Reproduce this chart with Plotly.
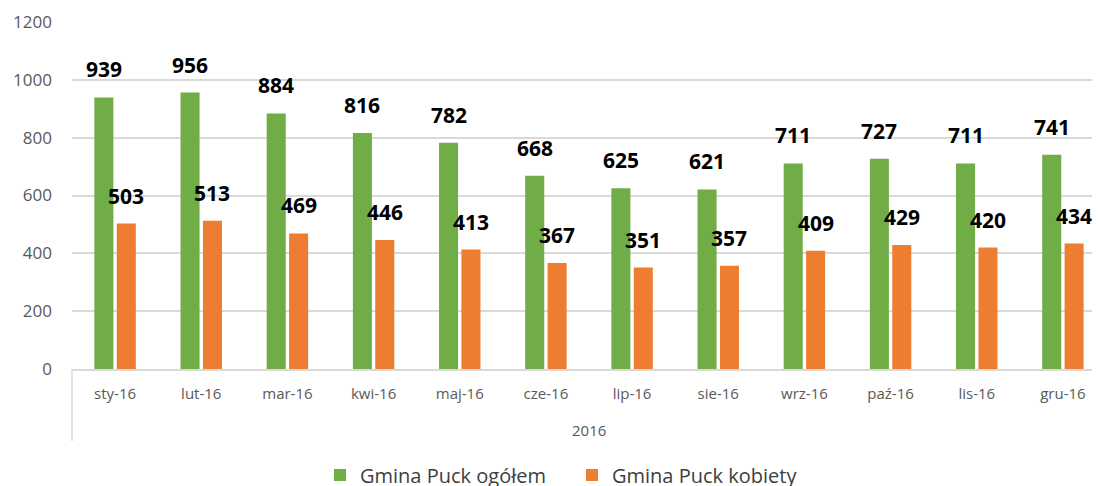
import plotly.graph_objects as go

months = ["sty-16", "lut-16", "mar-16", "kwi-16", "maj-16", "cze-16",
          "lip-16", "sie-16", "wrz-16", "paź-16", "lis-16", "gru-16"]
year_label = "2016"
ogolem = [939, 956, 884, 816, 782, 668, 625, 621, 711, 727, 711, 741]
kobiety = [503, 513, 469, 446, 413, 367, 351, 357, 409, 429, 420, 434]
y_ticks = [0, 200, 400, 600, 800, 1000, 1200]

W, H = 1100, 486
ml, mr, mt, mb = 64, 2, 14, 125
ph = H - mt - mb
pw = W - ml - mr

BARGAP, GROUPGAP = 0.48, 0.15
cat_px = pw / len(months)
grp_px = cat_px * (1 - BARGAP)
bar_off = grp_px / 4  # center of each bar relative to category center

lbl = dict(family="Open Sans, sans-serif", size=21, color="#000000", weight="bold")

fig = go.Figure()
fig.add_trace(go.Bar(
    x=months, y=ogolem, name="Gmina Puck ogółem",
    marker=dict(color="#70AD47", line=dict(width=0)),
))
fig.add_trace(go.Bar(
    x=months, y=kobiety, name="Gmina Puck kobiety",
    marker=dict(color="#ED7D31", line=dict(width=0)),
))

for series, shift in ((ogolem, -bar_off), (kobiety, bar_off)):
    for m, v in zip(months, series):
        fig.add_annotation(x=m, y=v, xref="x", yref="y", text=str(v),
                           showarrow=False, xshift=shift, yshift=12,
                           yanchor="bottom", font=lbl)

fig.update_layout(
    width=W, height=H,
    margin=dict(l=ml, r=mr, t=mt, b=mb, autoexpand=False),
    paper_bgcolor="white", plot_bgcolor="white",
    barmode="group", bargap=BARGAP, bargroupgap=GROUPGAP,
    font=dict(family="Open Sans, sans-serif", color="#595959"),
    legend=dict(orientation="h", x=(312 - ml) / pw, xanchor="left",
                y=-106 / ph, yanchor="middle",
                font=dict(size=20, color="#404040"),
                itemwidth=30, traceorder="normal",
                entrywidth=207, entrywidthmode="pixels"),
    xaxis=dict(type="category", showgrid=False, showline=True, linecolor="#d9d9d9",
               linewidth=1.5, ticks="", tickfont=dict(size=15, color="#595959"),
               ticklabelstandoff=10, automargin=False),
    yaxis=dict(range=[0, 1200], tickvals=y_ticks, showgrid=True, gridcolor="#d9d9d9",
               gridwidth=1.5, zeroline=False, showline=False,
               tickfont=dict(size=17, color="#595959"), ticklabelstandoff=19,
               automargin=False),
)

# multi-level axis: year label and left divider
fig.add_annotation(x=0.5, xref="paper", y=-61 / ph, yref="paper",
                   text=year_label, showarrow=False,
                   font=dict(size=15, color="#595959"), yanchor="middle")
fig.add_shape(type="line", xref="paper", yref="paper", x0=0, x1=0,
              y0=0, y1=-72 / ph, line=dict(color="#d9d9d9", width=1.5))

fig.write_html("out.html")
